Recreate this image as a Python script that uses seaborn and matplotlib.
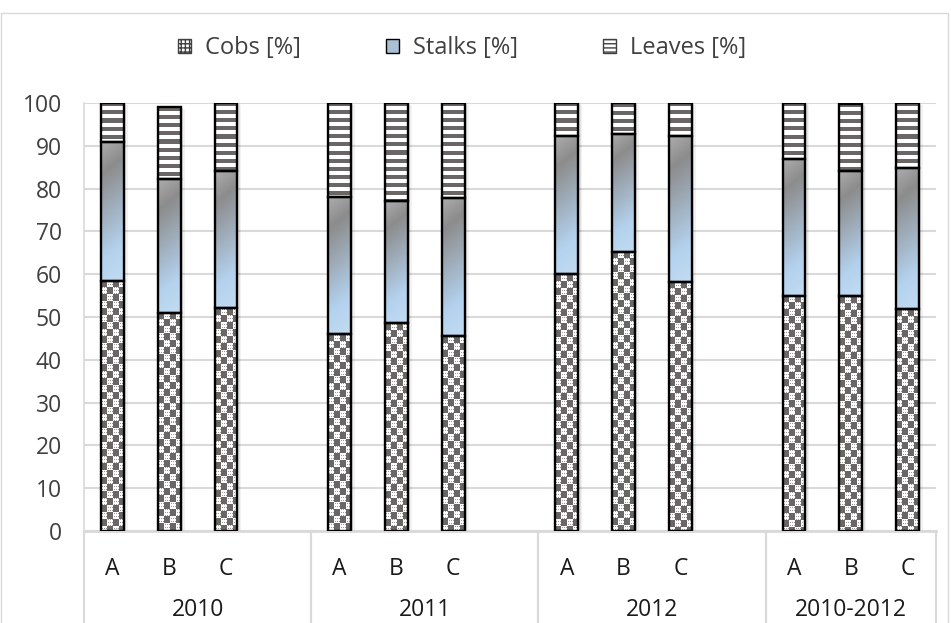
import numpy as np
import pandas as pd
import matplotlib
matplotlib.use('Agg')
import matplotlib.pyplot as plt
import matplotlib.transforms as mtransforms
from matplotlib.patches import Patch, Rectangle
from matplotlib.colors import LinearSegmentedColormap
import seaborn as sns

groups = ['2010', '2011', '2012', '2010-2012']
variants = ['A', 'B', 'C']
cobs = [58.5, 51.0, 52.0, 46.0, 48.5, 45.5, 60.0, 65.2, 58.2, 55.0, 54.8, 51.8]
stalks = [32.3, 31.3, 32.0, 32.0, 28.5, 32.2, 32.2, 27.6, 34.0, 31.8, 29.2, 32.9]
leaves = [9.2, 16.7, 16.0, 22.0, 23.0, 22.3, 7.8, 7.2, 7.8, 13.2, 15.8, 15.3]
legend_labels = ['Cobs [%]', 'Stalks [%]', 'Leaves [%]']

sns.set_theme(style='white')
plt.rcParams['font.family'] = ['Open Sans', 'DejaVu Sans']

# one slot per bar, plus an empty slot after every group but the last
order = []
for i, g in enumerate(groups):
    order += [g + ' ' + v for v in variants]
    if i < len(groups) - 1:
        order.append('gap' + str(i))

df = pd.DataFrame({'slot': [g + ' ' + v for g in groups for v in variants],
                   'cobs': cobs, 'stalks': stalks, 'leaves': leaves})
df['base2'] = df['cobs'] + df['stalks']

fig = plt.figure(figsize=(9.51, 6.23), dpi=100)
ax = fig.add_axes([84 / 951, 92 / 623, 852 / 951, 428 / 623])

segs = []
for col, bottom in [('cobs', None), ('stalks', df['cobs'].values), ('leaves', df['base2'].values)]:
    n0 = len(ax.patches)
    kw = {} if bottom is None else {'bottom': bottom}
    sns.barplot(data=df, x='slot', y=col, order=order, width=0.4, color='white',
                edgecolor='black', linewidth=1.7, errorbar=None, ax=ax, **kw)
    segs.append(ax.patches[n0:])

ax.set_xlim(-0.5, len(order) - 0.5)
ax.set_ylim(0, 100)

# fill textures
dark = np.array([0.42, 0.40, 0.40])


def checker(h, w):
    r, c = np.mgrid[0:h, 0:w]
    img = np.ones((h, w, 3))
    blk = ((r // 7) + (c // 6)) % 2 == 0
    dots = (~blk) & (r % 3 == 1) & (c % 2 == 1)
    img[blk] = dark
    img[dots] = dark * 1.5
    return img


def stripes(h, w):
    r = np.arange(h)[:, None] * np.ones((1, w), dtype=int)
    img = np.ones((h, w, 3))
    img[(r % 8) < 4] = dark
    return img


grad_cmap = LinearSegmentedColormap.from_list(
    'stalk', [(0, '#acacac'), (0.2, '#8c8c8c'), (0.75, '#b4d2ee'), (1, '#c3dcf2')])


def gradient(h, w):
    r, c = np.mgrid[0:h, 0:w]
    t = (r + 0.8 * c) / (h + 0.8 * w)
    return grad_cmap(t)[..., :3]


for bars, maker in zip(segs, [checker, gradient, stripes]):
    for p in bars:
        bb = p.get_window_extent()
        h, w = max(int(round(bb.height)), 1), max(int(round(bb.width)), 1)
        x0, y0 = p.get_x(), p.get_y()
        im = ax.imshow(maker(h, w), extent=(x0, x0 + p.get_width(), y0, y0 + p.get_height()),
                       aspect='auto', interpolation='nearest', zorder=2)
        im.set_clip_path(p)
        p.set_facecolor('none')
        p.set_zorder(3)

# soft shadow behind each stack
for i, p in enumerate(segs[0]):
    top = segs[2][i].get_y() + segs[2][i].get_height()
    for k, a in [(1, 0.10), (2.5, 0.07), (4, 0.05)]:
        tr = ax.transData + mtransforms.ScaledTranslation(k / 100, -k / 200, fig.dpi_scale_trans)
        ax.add_patch(Rectangle((p.get_x(), 0), p.get_width(), top, transform=tr,
                               color='black', alpha=a, lw=0, zorder=1.5))

ax.set_xlim(-0.5, len(order) - 0.5)
ax.set_ylim(0, 100)
ax.set_axisbelow(True)
ax.yaxis.grid(True, color='#d9d9d9', lw=1.5)
ax.xaxis.grid(False)
for s in ['top', 'right']:
    ax.spines[s].set_visible(False)
ax.spines['left'].set_color('#d9d9d9')
ax.spines['left'].set_linewidth(1.2)
ax.spines['bottom'].set_color('#d9d9d9')
ax.spines['bottom'].set_linewidth(2)

ax.set_yticks(range(0, 101, 10))
ax.tick_params(axis='y', length=0, pad=16, labelsize=16.5, labelcolor='#404040')
ax.set_xticks(range(len(order)))
ax.set_xticklabels(['' if o.startswith('gap') else o.split()[-1] for o in order])
ax.tick_params(axis='x', length=0, pad=19, labelsize=16.5, labelcolor='#1a1a1a')
ax.set_xlabel('')
ax.set_ylabel('')

# group labels and separators below the axis
pos = {o: i for i, o in enumerate(order)}
for i, g in enumerate(groups):
    idx = [pos[g + ' ' + v] for v in variants]
    lo = idx[0] - 0.5
    hi = idx[-1] + 0.5 + (1 if i < len(groups) - 1 else 0)
    ax.annotate(g, xy=((lo + hi) / 2, 0), xycoords=('data', 'axes fraction'), xytext=(0, -57),
                textcoords='offset points', ha='center', va='center', fontsize=16.5,
                color='#1a1a1a', annotation_clip=False)
    for xb in [lo, hi]:
        ax.plot([xb, xb], [0, -0.3], transform=ax.get_xaxis_transform(), color='#d9d9d9',
                lw=1.5, clip_on=False)

handles = [Patch(facecolor='white', edgecolor='#404040', hatch='++++', label=legend_labels[0]),
           Patch(facecolor='#a9bfd3', edgecolor='black', label=legend_labels[1]),
           Patch(facecolor='white', edgecolor='#404040', hatch='----', label=legend_labels[2])]
fig.legend(handles=handles, loc='center', bbox_to_anchor=(462 / 951, 1 - 48 / 623), ncol=3,
           frameon=False, fontsize=17, handlelength=0.55, handleheight=0.55, handletextpad=0.6,
           columnspacing=3.6, labelcolor='#404040')

fig.patches.append(Rectangle((1 / 951, -0.05), 947 / 951, 1.05 - 13 / 623, transform=fig.transFigure,
                             fill=False, edgecolor='#d9d9d9', lw=1))

fig.savefig('out.png', dpi=100)
